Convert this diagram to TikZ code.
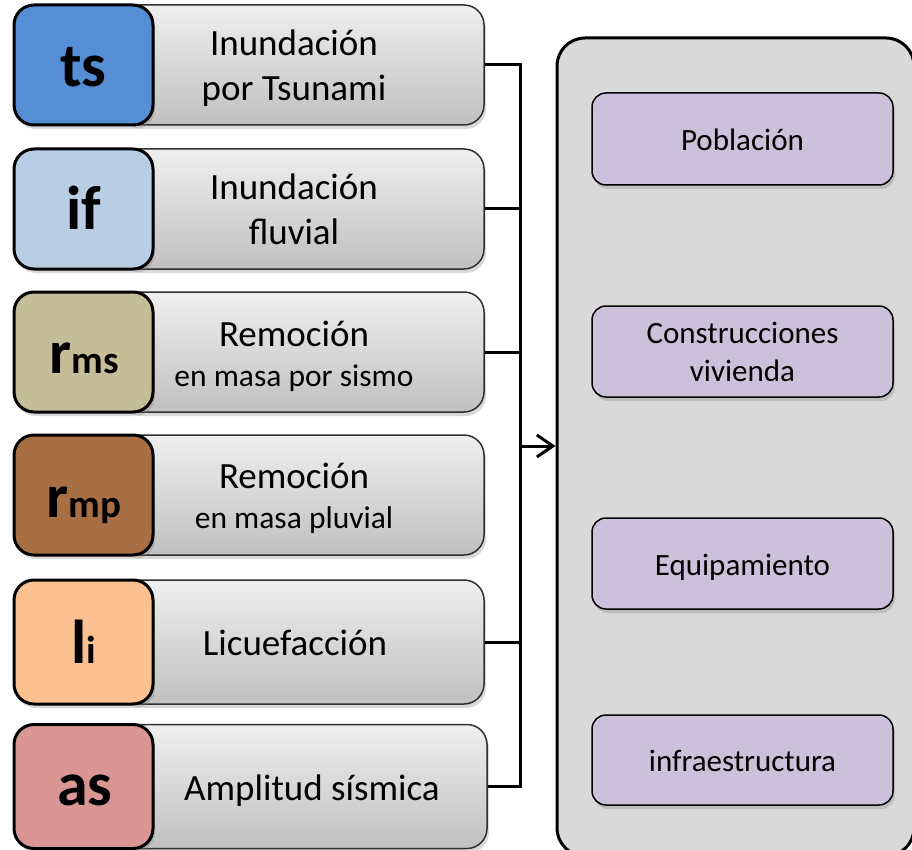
\documentclass[tikz,border=0pt]{standalone}
\usepackage{fontspec}
\setmainfont{Carlito}
\usetikzlibrary{arrows.meta,shadows}
\definecolor{cts}{HTML}{558ED5}
\definecolor{cif}{HTML}{B9CDE5}
\definecolor{crms}{HTML}{C4BD97}
\definecolor{crmp}{HTML}{A86F45}
\definecolor{cli}{HTML}{FAC090}
\definecolor{cas}{HTML}{D99694}
\definecolor{gtop}{HTML}{EFEFEF}
\definecolor{gbot}{HTML}{C0C0C0}
\definecolor{bigfill}{HTML}{D9D9D9}
\definecolor{lilac}{HTML}{CCC1DA}
\definecolor{gline}{HTML}{303030}
\newcommand{\bigtxt}{\fontsize{37pt}{44pt}\selectfont}
\newcommand{\smalltxt}{\fontsize{31.5pt}{38pt}\selectfont}
\newcommand{\subtxt}{\fontsize{39pt}{40pt}\selectfont}
\begin{document}
\begin{tikzpicture}[x=1pt,y=-1pt,
  codebox/.style={draw=black, line width=3pt, rounded corners=20pt,
    minimum width=139pt, minimum height=#1, inner sep=0pt,
    drop shadow={shadow xshift=2pt, shadow yshift=-4pt, opacity=0.3}},
  graybox/.style={draw=gline, line width=1.5pt, rounded corners=20pt,
    top color=gtop, bottom color=gbot,
    minimum height=#1, inner sep=0pt,
    drop shadow={shadow xshift=2pt, shadow yshift=-4pt, opacity=0.3}},
  abbr/.style={anchor=base, font=\fontsize{62pt}{62pt}\selectfont\bfseries, inner sep=0pt},
  lbl/.style={anchor=base, font=\bigtxt, inner sep=0pt},
  lblsmall/.style={anchor=base, font=\smalltxt, inner sep=0pt},
  purplebox/.style={draw=black, line width=1.5pt, rounded corners=14pt, fill=lilac,
    minimum width=301pt, minimum height=#1, inner sep=0pt, align=center,
    font=\fontsize{31pt}{38pt}\selectfont,
    drop shadow={shadow xshift=2pt, shadow yshift=-4pt, opacity=0.3}},
  oneline/.style={text height=30pt, text depth=7pt},
  conn/.style={draw=black, line width=3pt},
]
\useasboundingbox (0,0) rectangle (912,850);

% big target box
\node[draw=black, line width=3pt, rounded corners=28pt, fill=bigfill,
  minimum width=357pt, minimum height=818pt, inner sep=0pt] (target) at (735.5,447) {};

% row 1
\node[graybox=120pt, minimum width=364pt] (g1) at (302,65) {};
\node[codebox=120pt, fill=cts] (c1) at (83.5,65) {};
\node[abbr] (a1) at (83.5,87) {ts};
\node[lbl] (t1a) at (294,55.5) {Inundación};
\node[lbl] (t1b) at (294,100.5) {por Tsunami};

% row 2
\node[graybox=120pt, minimum width=364pt] (g2) at (302,209) {};
\node[codebox=120pt, fill=cif] (c2) at (83.5,209) {};
\node[abbr] (a2) at (84,230) {if};
\node[lbl] (t2a) at (294,199.5) {Inundación};
\node[lbl] (t2b) at (294,244.5) {fluvial};

% row 3
\node[graybox=120pt, minimum width=364pt] (g3) at (302,352) {};
\node[codebox=120pt, fill=crms] (c3) at (83.5,352) {};
\node[abbr] (a3) at (84,373) {r{\subtxt ms}};
\node[lbl] (t3a) at (294,346.5) {Remoción};
\node[lblsmall] (t3b) at (294,386) {en masa por sismo};

% row 4
\node[graybox=120pt, minimum width=364pt] (g4) at (302,495) {};
\node[codebox=120pt, fill=crmp] (c4) at (83.5,495) {};
\node[abbr] (a4) at (84,517) {r{\subtxt mp}};
\node[lbl] (t4a) at (294,488) {Remoción};
\node[lblsmall] (t4b) at (294,528) {en masa pluvial};

% row 5
\node[graybox=124pt, minimum width=364pt] (g5) at (302,642) {};
\node[codebox=124pt, fill=cli] (c5) at (83.5,642) {};
\node[abbr] (a5) at (84,663) {l{\subtxt i}};
\node[lbl] (t5a) at (295,655) {Licuefacción};

% row 6
\node[graybox=124pt, minimum width=367pt] (g6) at (303.5,786.5) {};
\node[codebox=124pt, fill=cas] (c6) at (83.5,786.5) {};
\node[abbr] (a6) at (85,805) {as};
\node[lbl] (t6a) at (312,800) {Amplitud sísmica};

% purple boxes
\node[purplebox=92pt, oneline] (p1) at (742.5,139) {Población};
\node[purplebox=91pt] (p2) at (742.5,351.5) {Construcciones\\vivienda};
\node[purplebox=91pt, oneline] (p3) at (742.5,563.5) {Equipamiento};
\node[purplebox=90pt, oneline] (p4) at (742.5,760) {infraestructura};

% connectors
\coordinate (busx) at (520,0);
\coordinate (hub) at (520,446);
\draw[conn] (g1.east) -- (g1.east -| busx);
\draw[conn] (g2.east) -- (g2.east -| busx);
\draw[conn] (g3.east) -- (g3.east -| busx);
\draw[conn] (g5.east) -- (g5.east -| busx);
\draw[conn] (g6.east) -- (g6.east -| busx);
\draw[conn, line cap=rect] (g1.east -| busx) -- (g6.east -| busx);
\draw[conn, -{Straight Barb[length=16pt,width=22pt]}] (hub) -- (hub -| target.west);
\end{tikzpicture}
\end{document}
